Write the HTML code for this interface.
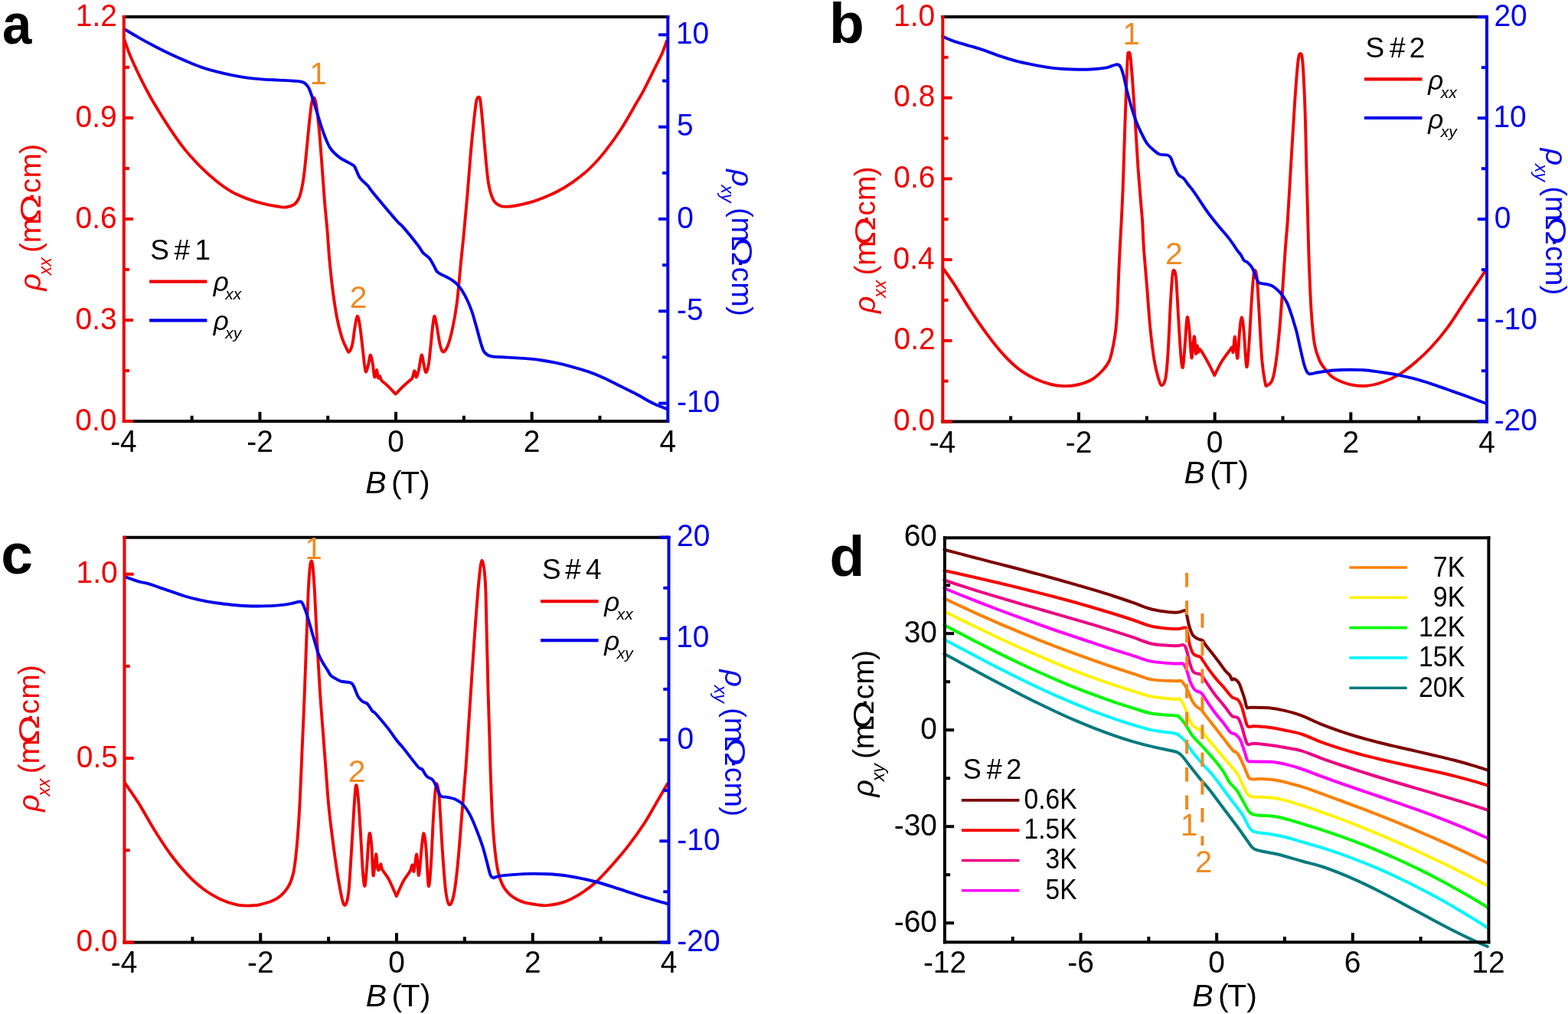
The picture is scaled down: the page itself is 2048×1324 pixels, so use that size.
<!DOCTYPE html>
<html><head><meta charset="utf-8"><title>Figure</title>
<style>
html,body{margin:0;padding:0;background:#fff;width:2048px;height:1324px;overflow:hidden;}
svg{display:block;}
text{font-family:"Liberation Sans",sans-serif;}
</style></head><body>
<svg width="2048" height="1324" viewBox="0 0 2048 1324">
<rect width="2048" height="1324" fill="#fff"/>
<path d="M162,50.6C163.37,54.33 167.13,65.52 170.2,73C173.27,80.48 177,88.35 180.4,95.5C183.8,102.65 187.2,109.45 190.6,115.9C194,122.35 195.7,125.72 200.8,134.2C205.9,142.68 214.4,156.6 221.2,166.8C228,177 234.8,186.9 241.6,195.4C248.4,203.9 255.2,211 262,217.8C268.8,224.6 275.6,230.75 282.4,236.2C289.2,241.65 296,246.6 302.8,250.5C309.6,254.4 316.4,257.05 323.2,259.6C330,262.15 336.8,264.1 343.6,265.8C350.4,267.5 358.9,269.02 364,269.8C369.1,270.58 370.8,271 374.2,270.5C377.6,270 381.68,268.78 384.4,266.8C387.12,264.82 388.82,262.33 390.5,258.6C392.18,254.87 393.32,250.17 394.5,244.4C395.68,238.63 396.57,232.5 397.6,224C398.63,215.5 399.68,203.6 400.7,193.4C401.72,183.2 402.68,172.32 403.7,162.8C404.72,153.28 405.88,142.08 406.8,136.3C407.72,130.52 408.35,128.95 409.2,128.1C410.05,127.25 410.95,127.47 411.9,131.2C412.85,134.93 413.88,141.83 414.9,150.5C415.92,159.17 416.97,170.95 418,183.2C419.03,195.45 420.08,210.42 421.1,224C422.12,237.58 423.03,251.85 424.1,264.7C425.17,277.55 426.4,287.98 427.5,301.1C428.6,314.22 429.47,330 430.7,343.4C431.93,356.8 433.32,369.52 434.9,381.5C436.48,393.48 438.27,405.43 440.2,415.3C442.13,425.17 444.38,434 446.5,440.7C448.62,447.4 451.32,452.4 452.9,455.5C454.48,458.6 454.77,460.35 456,459.3C457.23,458.25 459.07,454.42 460.3,449.2C461.53,443.98 462.35,434.07 463.4,428C464.45,421.93 465.53,413.5 466.6,412.8C467.67,412.1 468.73,417.73 469.8,423.8C470.87,429.87 471.95,440.38 473,449.2C474.05,458.02 475.23,470.65 476.1,476.7C476.97,482.75 477.32,485.87 478.2,485.5C479.08,485.13 480.45,478.17 481.4,474.5C482.35,470.83 483.02,463.5 483.9,463.5C484.78,463.5 485.82,469.67 486.7,474.5C487.58,479.33 488.32,491.08 489.2,492.5C490.08,493.92 491.18,482.82 492,483C492.82,483.18 493.4,492.27 494.1,493.6C494.8,494.93 495.5,490.48 496.2,491C496.9,491.52 496.72,494.68 498.3,496.7C499.88,498.72 502.63,500.13 505.7,503.1C508.77,506.07 514.87,512.6 516.7,514.5C518.4,512.78 523.8,507.17 526.9,504.2C530,501.23 533.37,498.47 535.3,496.7C537.23,494.93 537.5,495.7 538.5,493.6C539.5,491.5 540.42,484.28 541.3,484.1C542.18,483.92 542.85,492.68 543.8,492.5C544.75,492.32 545.87,487.83 547,483C548.13,478.17 549.55,464.92 550.6,463.5C551.65,462.08 552.38,470.72 553.3,474.5C554.22,478.28 555.03,485.83 556.1,486.2C557.17,486.57 558.58,482.87 559.7,476.7C560.82,470.53 561.85,458.02 562.8,449.2C563.75,440.38 564.58,429.87 565.4,423.8C566.22,417.73 566.78,412.1 567.7,412.8C568.62,413.5 569.77,421.93 570.9,428C572.03,434.07 573.27,443.98 574.5,449.2C575.73,454.42 576.72,458.6 578.3,459.3C579.88,460 582,457.9 584,453.4C586,448.9 588.18,441.82 590.3,432.3C592.42,422.78 594.77,411.12 596.7,396.3C598.63,381.48 600.32,359.27 601.9,343.4C603.48,327.53 604.75,316.23 606.2,301.1C607.65,285.97 609.17,269.5 610.6,252.6C612.03,235.7 613.4,215.55 614.8,199.7C616.2,183.85 617.77,168.77 619,157.5C620.23,146.23 621.2,137.22 622.2,132.1C623.2,126.98 624.12,126.8 625,126.8C625.88,126.8 626.55,125.93 627.5,132.1C628.45,138.27 629.65,152.53 630.7,163.8C631.75,175.07 632.57,187.02 633.8,199.7C635.03,212.38 636.33,229.67 638.1,239.9C639.87,250.13 641.93,256.33 644.4,261.1C646.87,265.87 650.08,267.03 652.9,268.5C655.72,269.97 657.78,269.9 661.3,269.9C664.82,269.9 667.65,269.8 674,268.5C680.35,267.2 690.58,265.1 699.4,262.1C708.22,259.1 718.8,254.55 726.9,250.5C735,246.45 740.95,242.73 748,237.8C755.05,232.87 762.15,227.6 769.2,220.9C776.25,214.2 783.25,206.42 790.3,197.6C797.35,188.78 804.45,178.92 811.5,168C818.55,157.08 827.67,140.55 832.6,132.1C837.53,123.65 837.57,124 841.1,117.3C844.63,110.6 849.93,99.65 853.8,91.9C857.67,84.15 861.48,77.15 864.3,70.8C867.12,64.45 869.63,56.63 870.7,53.8" fill="none" stroke="#f00000" stroke-width="3.9" stroke-linejoin="round" stroke-linecap="round"/>
<path d="M163.1,38.4C165.98,40.1 174.12,45.03 180.4,48.6C186.68,52.17 194,56.23 200.8,59.8C207.6,63.37 214.4,66.78 221.2,70C228,73.22 234.8,76.22 241.6,79.1C248.4,81.98 255.2,84.92 262,87.3C268.8,89.68 275.6,91.6 282.4,93.4C289.2,95.2 296,96.73 302.8,98.1C309.6,99.47 316.4,100.68 323.2,101.6C330,102.52 336.8,103.1 343.6,103.6C350.4,104.1 357.2,104.25 364,104.6C370.8,104.95 378.97,105.18 384.4,105.7C389.83,106.22 393.55,106.35 396.6,107.7C399.65,109.05 401,111.08 402.7,113.8C404.4,116.52 405.43,120.25 406.8,124C408.17,127.75 409.2,130.87 410.9,136.3C412.6,141.73 414.97,150.15 417,156.6C419.03,163.05 420.72,168.87 423.1,175C425.48,181.13 427.9,188.3 431.3,193.4C434.7,198.5 438.75,202.03 443.5,205.6C448.25,209.17 456.4,212.58 459.8,214.8C463.2,217.02 462.2,216.02 463.9,218.9C465.6,221.78 467.28,228.2 470,232.1C472.72,236 477.48,239.23 480.2,242.3C482.92,245.37 481.88,245.07 486.3,250.5C490.72,255.93 501.25,268.45 506.7,274.9C512.15,281.35 515.63,285.53 519,289.2C522.37,292.87 522.42,291.73 526.9,296.9C531.38,302.07 541.67,314.73 545.9,320.2C550.13,325.67 549.83,326.88 552.3,329.7C554.77,332.52 558.23,334.1 560.7,337.1C563.17,340.1 565.33,344.7 567.1,347.7C568.87,350.7 569.2,353.07 571.3,355.1C573.4,357.13 576.53,358.15 579.7,359.9C582.87,361.65 587.12,363.42 590.3,365.6C593.48,367.78 595.98,369.65 598.8,373C601.62,376.35 604.38,380.4 607.2,385.7C610.02,391 613.23,398.1 615.7,404.8C618.17,411.5 619.88,418.5 622,425.9C624.12,433.3 626.63,443.57 628.4,449.2C630.17,454.83 630.47,457.05 632.6,459.7C634.73,462.35 636.25,463.95 641.2,465.1C646.15,466.25 655.25,466.13 662.3,466.6C669.35,467.07 676.45,467.33 683.5,467.9C690.55,468.47 697.55,469.05 704.6,470C711.65,470.95 718.75,472.12 725.8,473.6C732.85,475.08 739.85,476.97 746.9,478.9C753.95,480.83 761.05,482.73 768.1,485.2C775.15,487.67 782.15,490.53 789.2,493.7C796.25,496.87 803.35,500.68 810.4,504.2C817.45,507.72 824.45,511.08 831.5,514.8C838.55,518.52 846.17,523.32 852.7,526.5C859.23,529.68 867.7,532.67 870.7,533.9" fill="none" stroke="#0000ea" stroke-width="3.9" stroke-linejoin="round" stroke-linecap="round"/>
<line x1="159.8" y1="21.9" x2="874.3" y2="21.9" stroke="#000000" stroke-width="4.0"/>
<line x1="159.8" y1="550" x2="874.3" y2="550" stroke="#000000" stroke-width="4.0"/>
<line x1="161.8" y1="19.9" x2="161.8" y2="552" stroke="#f00000" stroke-width="4.0"/>
<line x1="872.3" y1="19.9" x2="872.3" y2="552" stroke="#0000ea" stroke-width="4.0"/>
<line x1="250.61" y1="550" x2="250.61" y2="542.8" stroke="#000000" stroke-width="4.0"/>
<line x1="339.43" y1="550" x2="339.43" y2="537.8" stroke="#000000" stroke-width="4.0"/>
<line x1="428.24" y1="550" x2="428.24" y2="542.8" stroke="#000000" stroke-width="4.0"/>
<line x1="517.05" y1="550" x2="517.05" y2="537.8" stroke="#000000" stroke-width="4.0"/>
<line x1="605.86" y1="550" x2="605.86" y2="542.8" stroke="#000000" stroke-width="4.0"/>
<line x1="694.67" y1="550" x2="694.67" y2="537.8" stroke="#000000" stroke-width="4.0"/>
<line x1="783.49" y1="550" x2="783.49" y2="542.8" stroke="#000000" stroke-width="4.0"/>
<text x="143.22" y="590.5" font-size="41" fill="#000000" transform="matrix(0.95,0,0,1,8.09,0)">-4</text>
<text x="321.35" y="590.5" font-size="41" fill="#000000" transform="matrix(0.95,0,0,1,16.97,0)">-2</text>
<text x="505.67" y="590.5" font-size="41" fill="#000000" transform="matrix(0.95,0,0,1,25.85,0)">0</text>
<text x="683.3" y="590.5" font-size="41" fill="#000000" transform="matrix(0.95,0,0,1,34.73,0)">2</text>
<text x="860.92" y="590.5" font-size="41" fill="#000000" transform="matrix(0.95,0,0,1,43.62,0)">4</text>
<line x1="161.8" y1="550" x2="174" y2="550" stroke="#f00000" stroke-width="4.0"/>
<line x1="161.8" y1="417.98" x2="174" y2="417.98" stroke="#f00000" stroke-width="4.0"/>
<line x1="161.8" y1="285.95" x2="174" y2="285.95" stroke="#f00000" stroke-width="4.0"/>
<line x1="161.8" y1="153.92" x2="174" y2="153.92" stroke="#f00000" stroke-width="4.0"/>
<line x1="161.8" y1="483.99" x2="169" y2="483.99" stroke="#f00000" stroke-width="4.0"/>
<line x1="161.8" y1="351.96" x2="169" y2="351.96" stroke="#f00000" stroke-width="4.0"/>
<line x1="161.8" y1="219.94" x2="169" y2="219.94" stroke="#f00000" stroke-width="4.0"/>
<line x1="161.8" y1="87.91" x2="169" y2="87.91" stroke="#f00000" stroke-width="4.0"/>
<text x="96.06" y="33.5" font-size="41" fill="#f00000" transform="matrix(0.95,0,0,1,7.55,0)">1.2</text>
<text x="95.81" y="165.52" font-size="41" fill="#f00000" transform="matrix(0.95,0,0,1,7.55,0)">0.9</text>
<text x="95.81" y="297.55" font-size="41" fill="#f00000" transform="matrix(0.95,0,0,1,7.55,0)">0.6</text>
<text x="95.81" y="429.58" font-size="41" fill="#f00000" transform="matrix(0.95,0,0,1,7.55,0)">0.3</text>
<text x="95.56" y="561.6" font-size="41" fill="#f00000" transform="matrix(0.95,0,0,1,7.55,0)">0.0</text>
<line x1="872.3" y1="45.4" x2="860.1" y2="45.4" stroke="#0000ea" stroke-width="4.0"/>
<line x1="872.3" y1="165.7" x2="860.1" y2="165.7" stroke="#0000ea" stroke-width="4.0"/>
<line x1="872.3" y1="286" x2="860.1" y2="286" stroke="#0000ea" stroke-width="4.0"/>
<line x1="872.3" y1="406.3" x2="860.1" y2="406.3" stroke="#0000ea" stroke-width="4.0"/>
<line x1="872.3" y1="526.6" x2="860.1" y2="526.6" stroke="#0000ea" stroke-width="4.0"/>
<line x1="872.3" y1="105.55" x2="865.1" y2="105.55" stroke="#0000ea" stroke-width="4.0"/>
<line x1="872.3" y1="225.85" x2="865.1" y2="225.85" stroke="#0000ea" stroke-width="4.0"/>
<line x1="872.3" y1="346.15" x2="865.1" y2="346.15" stroke="#0000ea" stroke-width="4.0"/>
<line x1="872.3" y1="466.45" x2="865.1" y2="466.45" stroke="#0000ea" stroke-width="4.0"/>
<text x="882.8" y="57" font-size="41" fill="#0000ea" transform="matrix(0.95,0,0,1,44.29,0)">10</text>
<text x="884.05" y="177.3" font-size="41" fill="#0000ea" transform="matrix(0.95,0,0,1,44.29,0)">5</text>
<text x="884.3" y="297.6" font-size="41" fill="#0000ea" transform="matrix(0.95,0,0,1,44.29,0)">0</text>
<text x="884.05" y="417.9" font-size="41" fill="#0000ea" transform="matrix(0.95,0,0,1,44.29,0)">-5</text>
<text x="884.05" y="538.2" font-size="41" fill="#0000ea" transform="matrix(0.95,0,0,1,44.29,0)">-10</text>
<text x="2.75" y="57.2" font-size="75" fill="#000000" font-weight="bold" transform="matrix(0.92,0,0,1,0.4,0)">a</text>
<text fill="#000000"><tspan x="477.25" y="644.2" font-size="41" font-style="italic">B</tspan><tspan x="511" y="644.2" font-size="41">(</tspan><tspan x="522.9" y="644.2" font-size="41">T</tspan><tspan x="548.05" y="644.2" font-size="41">)</tspan></text>
<text fill="#f00000" transform="translate(53.3,380.6) rotate(-90)"><tspan x="1" y="0" font-size="39" font-style="italic">&#961;</tspan><tspan x="21.25" y="14" font-size="23" font-style="italic">xx</tspan><tspan x="50.6" y="0" font-size="39">(</tspan><tspan x="63.3" y="0" font-size="39">m</tspan><tspan x="117.5" y="0" font-size="39">&#183;</tspan><tspan x="128.25" y="0" font-size="39">c</tspan><tspan x="148" y="0" font-size="39">m</tspan><tspan x="179.75" y="0" font-size="39">)</tspan></text>
<text fill="#f00000" transform="translate(53.3,380.6) rotate(-90) translate(89.22,0) scale(1.3,0.96)" font-size="39">&#937;</text>
<text fill="#0000ea" transform="translate(955.6,220.3) rotate(90)"><tspan x="1" y="0" font-size="39" font-style="italic">&#961;</tspan><tspan x="21.25" y="14" font-size="23" font-style="italic">xy</tspan><tspan x="50.6" y="0" font-size="39">(</tspan><tspan x="63.3" y="0" font-size="39">m</tspan><tspan x="117.5" y="0" font-size="39">&#183;</tspan><tspan x="128.25" y="0" font-size="39">c</tspan><tspan x="148" y="0" font-size="39">m</tspan><tspan x="179.75" y="0" font-size="39">)</tspan></text>
<text fill="#0000ea" transform="translate(955.6,220.3) rotate(90) translate(89.22,0) scale(1.3,0.96)" font-size="39">&#937;</text>
<text fill="#000000"><tspan x="196.35" y="338.5" font-size="37">S</tspan><tspan x="227.45" y="338.5" font-size="37">#</tspan><tspan x="254.55" y="338.5" font-size="37">1</tspan></text>
<line x1="195.1" y1="367.7" x2="270.4" y2="367.7" stroke="#f00000" stroke-width="4.2"/>
<line x1="195.1" y1="418.4" x2="270.4" y2="418.4" stroke="#0000ea" stroke-width="4.2"/>
<text fill="#000000"><tspan x="278.65" y="380.4" font-size="35" font-style="italic">&#961;</tspan><tspan x="294.35" y="391.4" font-size="21" font-style="italic">xx</tspan></text>
<text fill="#000000"><tspan x="278.65" y="431.2" font-size="35" font-style="italic">&#961;</tspan><tspan x="294.35" y="442.2" font-size="21" font-style="italic">xy</tspan></text>
<text x="404.5" y="109.7" font-size="40" fill="#f08a1e">1</text>
<text x="456.82" y="401.6" font-size="41" fill="#f08a1e">2</text>
<path d="M1231.3,349.8C1233.77,353.32 1240.1,361.73 1246.1,370.9C1252.1,380.07 1260.25,394.05 1267.3,404.8C1274.35,415.55 1281.35,425.88 1288.4,435.4C1295.45,444.92 1302.55,454.15 1309.6,461.9C1316.65,469.65 1323.65,476.45 1330.7,481.9C1337.75,487.35 1344.85,491.25 1351.9,494.6C1358.95,497.95 1366.67,500.42 1373,502C1379.33,503.58 1384.25,504.02 1389.9,504.1C1395.55,504.18 1400.9,503.9 1406.9,502.5C1412.9,501.1 1420.27,498.95 1425.9,495.7C1431.53,492.45 1436.82,487.23 1440.7,483C1444.58,478.77 1446.92,475.93 1449.2,470.3C1451.48,464.67 1453,456.25 1454.4,449.2C1455.8,442.15 1456.72,436.82 1457.6,428C1458.48,419.18 1459,410.4 1459.7,396.3C1460.4,382.2 1460.98,361.12 1461.8,343.4C1462.62,325.68 1463.78,306.5 1464.6,290C1465.42,273.5 1466.02,262.2 1466.7,244.4C1467.38,226.6 1468.02,203.6 1468.7,183.2C1469.38,162.8 1470.12,140.02 1470.8,122C1471.48,103.98 1472.23,83.95 1472.8,75.1C1473.37,66.25 1473.62,69.25 1474.2,68.9C1474.78,68.55 1475.52,67.55 1476.3,73C1477.08,78.45 1477.88,88.33 1478.9,101.6C1479.92,114.87 1481.2,133.9 1482.4,152.6C1483.6,171.3 1484.82,195.12 1486.1,213.8C1487.38,232.48 1489.08,252 1490.1,264.7C1491.12,277.4 1491.58,280.4 1492.2,290C1492.82,299.6 1492.82,308.1 1493.8,322.3C1494.78,336.5 1496.68,357.57 1498.1,375.2C1499.52,392.83 1500.72,412.23 1502.3,428.1C1503.88,443.97 1505.83,459.47 1507.6,470.4C1509.37,481.33 1511.25,488.23 1512.9,493.7C1514.55,499.17 1515.92,503.2 1517.5,503.2C1519.08,503.2 1521.05,500.93 1522.4,493.7C1523.75,486.47 1524.53,476.02 1525.6,459.8C1526.67,443.58 1527.85,412.97 1528.8,396.4C1529.75,379.83 1530.53,367.63 1531.3,360.4C1532.07,353.17 1532.58,352.3 1533.4,353C1534.22,353.7 1535.22,353.85 1536.2,364.6C1537.18,375.35 1538.25,400.57 1539.3,417.5C1540.35,434.43 1541.55,455.9 1542.5,466.2C1543.45,476.5 1544.12,482.13 1545,479.3C1545.88,476.47 1546.98,459.15 1547.8,449.2C1548.62,439.25 1549.3,425.3 1549.9,419.6C1550.5,413.9 1550.8,412.88 1551.4,415C1552,417.12 1552.68,423.6 1553.5,432.3C1554.32,441 1555.48,464.38 1556.3,467.2C1557.12,470.02 1557.77,453.78 1558.4,449.2C1559.03,444.62 1559.5,437.58 1560.1,439.7C1560.7,441.82 1561.4,459.95 1562,461.9C1562.6,463.85 1563.18,451.75 1563.7,451.4C1564.22,451.05 1564.58,459.1 1565.1,459.8C1565.62,460.5 1565.98,455.6 1566.8,455.6C1567.62,455.6 1568.05,456.63 1570,459.8C1571.95,462.97 1575.78,469.53 1578.5,474.6C1581.22,479.67 1585,487.6 1586.3,490.2C1587.82,487.25 1592.12,477.92 1595.4,472.5C1598.68,467.08 1603.72,460.87 1606,457.7C1608.28,454.53 1608.33,453.15 1609.1,453.5C1609.87,453.85 1610,462.1 1610.6,459.8C1611.2,457.5 1612.07,440.75 1612.7,439.7C1613.33,438.65 1613.77,448.92 1614.4,453.5C1615.03,458.08 1615.72,470.73 1616.5,467.2C1617.28,463.67 1618.22,441.12 1619.1,432.3C1619.98,423.48 1620.88,414.3 1621.8,414.3C1622.72,414.3 1623.53,421.53 1624.6,432.3C1625.67,443.07 1627.07,476.08 1628.2,478.9C1629.33,481.72 1630.35,462.95 1631.4,449.2C1632.45,435.45 1633.52,411.2 1634.5,396.4C1635.48,381.6 1636.48,367.63 1637.3,360.4C1638.12,353.17 1638.63,352.3 1639.4,353C1640.17,353.7 1641.05,355.62 1641.9,364.6C1642.75,373.58 1643.43,389.27 1644.5,406.9C1645.57,424.53 1646.97,454.88 1648.3,470.4C1649.63,485.92 1651.38,494.53 1652.5,500C1653.62,505.47 1653.43,503.9 1655,503.2C1656.57,502.5 1659.92,501.27 1661.9,495.8C1663.88,490.33 1665.32,481.68 1666.9,470.4C1668.48,459.12 1669.98,443.97 1671.4,428.1C1672.82,412.23 1674.13,392.83 1675.4,375.2C1676.67,357.57 1677.9,337.33 1679,322.3C1680.1,307.27 1680.7,304.8 1682,285C1683.3,265.2 1685.27,228.97 1686.8,203.5C1688.33,178.03 1689.78,152.58 1691.2,132.2C1692.62,111.82 1694.1,91.57 1695.3,81.2C1696.5,70.83 1697.38,70 1698.4,70C1699.42,70 1700.38,69.13 1701.4,81.2C1702.42,93.27 1703.65,118.62 1704.5,142.4C1705.35,166.18 1705.87,199.3 1706.5,223.9C1707.13,248.5 1707.75,270.07 1708.3,290C1708.85,309.93 1709.07,324.02 1709.8,343.5C1710.53,362.98 1711.52,389.28 1712.7,406.9C1713.88,424.52 1715.13,438.62 1716.9,449.2C1718.67,459.78 1720.83,464.75 1723.3,470.4C1725.77,476.05 1728.53,479.22 1731.7,483.1C1734.87,486.98 1737,490.53 1742.3,493.7C1747.6,496.87 1756.45,500.42 1763.5,502.1C1770.55,503.78 1777.55,504.32 1784.6,503.8C1791.65,503.28 1798.75,501.4 1805.8,499C1812.85,496.6 1819.85,493.63 1826.9,489.4C1833.95,485.17 1841.05,479.58 1848.1,473.6C1855.15,467.62 1862.15,461.08 1869.2,453.5C1876.25,445.92 1883.35,437.62 1890.4,428.1C1897.45,418.58 1905.15,405.92 1911.5,396.4C1917.85,386.88 1923.9,377.88 1928.5,371C1933.1,364.12 1937.33,357.75 1939.1,355.1" fill="none" stroke="#f00000" stroke-width="3.9" stroke-linejoin="round" stroke-linecap="round"/>
<path d="M1231.1,47.5C1233.48,48.53 1240.13,51.82 1245.4,53.7C1250.67,55.58 1256.92,57.1 1262.7,58.8C1268.48,60.5 1272.78,61.47 1280.1,63.9C1287.42,66.33 1298.78,70.78 1306.6,73.4C1314.42,76.02 1320.2,77.8 1327,79.6C1333.8,81.4 1340.6,82.82 1347.4,84.2C1354.2,85.58 1361,86.93 1367.8,87.9C1374.6,88.87 1381.4,89.52 1388.2,90C1395,90.48 1401.8,90.77 1408.6,90.8C1415.4,90.83 1422.88,90.62 1429,90.2C1435.12,89.78 1441.23,89.05 1445.3,88.3C1449.37,87.55 1451.03,86.38 1453.4,85.7C1455.77,85.02 1457.8,83.93 1459.5,84.2C1461.2,84.47 1462.23,84.75 1463.6,87.3C1464.97,89.85 1466.33,94.4 1467.7,99.5C1469.07,104.6 1470.1,111.1 1471.8,117.9C1473.5,124.7 1475.87,133.5 1477.9,140.3C1479.93,147.1 1481.97,153.37 1484,158.7C1486.03,164.03 1487.72,167.5 1490.1,172.3C1492.48,177.1 1495.57,183.58 1498.3,187.5C1501.03,191.42 1503.78,193.47 1506.5,195.8C1509.22,198.13 1511.55,200.38 1514.6,201.5C1517.65,202.62 1522.42,201.82 1524.8,202.5C1527.18,203.18 1527.53,203.38 1528.9,205.6C1530.27,207.82 1531.3,212.07 1533,215.8C1534.7,219.53 1536.9,225.12 1539.1,228C1541.3,230.88 1544.17,231.05 1546.2,233.1C1548.23,235.15 1549.6,238.08 1551.3,240.3C1553,242.52 1554.35,243.68 1556.4,246.4C1558.45,249.12 1561.05,252.87 1563.6,256.6C1566.15,260.33 1569.05,264.9 1571.7,268.8C1574.35,272.7 1576.25,275.67 1579.5,280C1582.75,284.33 1587.13,289.87 1591.2,294.8C1595.27,299.73 1600.38,305.18 1603.9,309.6C1607.42,314.02 1610.2,318.3 1612.3,321.3C1614.4,324.3 1615.08,325.67 1616.5,327.6C1617.92,329.53 1619.38,330.78 1620.8,332.9C1622.22,335.02 1623.6,338.72 1625,340.3C1626.4,341.88 1627.43,340.82 1629.2,342.4C1630.97,343.98 1633.83,346.8 1635.6,349.8C1637.37,352.8 1638.4,357.22 1639.8,360.4C1641.2,363.58 1642.23,367.22 1644,368.9C1645.77,370.58 1647.57,369.8 1650.4,370.5C1653.23,371.2 1657.48,371.27 1661,373.1C1664.52,374.93 1668.68,378.68 1671.5,381.5C1674.32,384.32 1675.95,386.83 1677.9,390C1679.85,393.17 1680.73,393.8 1683.2,400.5C1685.67,407.2 1690.25,421.47 1692.7,430.2C1695.15,438.93 1696.15,445.35 1697.9,452.9C1699.65,460.45 1701.68,470.07 1703.2,475.5C1704.72,480.93 1705.78,483.37 1707,485.5C1708.22,487.63 1709.17,487.95 1710.5,488.3C1711.83,488.65 1713.22,487.93 1715,487.6C1716.78,487.27 1716.65,486.98 1721.2,486.3C1725.75,485.62 1735.25,484.1 1742.3,483.5C1749.35,482.9 1756.45,482.7 1763.5,482.7C1770.55,482.7 1777.55,482.9 1784.6,483.5C1791.65,484.1 1798.75,485.23 1805.8,486.3C1812.85,487.37 1819.85,488.5 1826.9,489.9C1833.95,491.3 1841.05,492.83 1848.1,494.7C1855.15,496.57 1862.15,498.8 1869.2,501.1C1876.25,503.4 1883.35,506.03 1890.4,508.5C1897.45,510.97 1903.22,512.9 1911.5,515.9C1919.78,518.9 1935.33,524.73 1940.1,526.5" fill="none" stroke="#0000ea" stroke-width="3.9" stroke-linejoin="round" stroke-linecap="round"/>
<line x1="1229.3" y1="22" x2="1944" y2="22" stroke="#000000" stroke-width="4.0"/>
<line x1="1229.3" y1="550.5" x2="1944" y2="550.5" stroke="#000000" stroke-width="4.0"/>
<line x1="1231.3" y1="20" x2="1231.3" y2="552.5" stroke="#f00000" stroke-width="4.0"/>
<line x1="1942" y1="20" x2="1942" y2="552.5" stroke="#0000ea" stroke-width="4.0"/>
<line x1="1320.14" y1="550.5" x2="1320.14" y2="543.3" stroke="#000000" stroke-width="4.0"/>
<line x1="1408.97" y1="550.5" x2="1408.97" y2="538.3" stroke="#000000" stroke-width="4.0"/>
<line x1="1497.81" y1="550.5" x2="1497.81" y2="543.3" stroke="#000000" stroke-width="4.0"/>
<line x1="1586.65" y1="550.5" x2="1586.65" y2="538.3" stroke="#000000" stroke-width="4.0"/>
<line x1="1675.49" y1="550.5" x2="1675.49" y2="543.3" stroke="#000000" stroke-width="4.0"/>
<line x1="1764.33" y1="550.5" x2="1764.33" y2="538.3" stroke="#000000" stroke-width="4.0"/>
<line x1="1853.16" y1="550.5" x2="1853.16" y2="543.3" stroke="#000000" stroke-width="4.0"/>
<text x="1212.72" y="591.5" font-size="41" fill="#000000" transform="matrix(0.95,0,0,1,61.57,0)">-4</text>
<text x="1390.9" y="591.5" font-size="41" fill="#000000" transform="matrix(0.95,0,0,1,70.45,0)">-2</text>
<text x="1575.28" y="591.5" font-size="41" fill="#000000" transform="matrix(0.95,0,0,1,79.33,0)">0</text>
<text x="1752.95" y="591.5" font-size="41" fill="#000000" transform="matrix(0.95,0,0,1,88.22,0)">2</text>
<text x="1930.62" y="591.5" font-size="41" fill="#000000" transform="matrix(0.95,0,0,1,97.1,0)">4</text>
<line x1="1231.3" y1="550.5" x2="1243.5" y2="550.5" stroke="#f00000" stroke-width="4.0"/>
<line x1="1231.3" y1="444.8" x2="1243.5" y2="444.8" stroke="#f00000" stroke-width="4.0"/>
<line x1="1231.3" y1="339.1" x2="1243.5" y2="339.1" stroke="#f00000" stroke-width="4.0"/>
<line x1="1231.3" y1="233.4" x2="1243.5" y2="233.4" stroke="#f00000" stroke-width="4.0"/>
<line x1="1231.3" y1="127.7" x2="1243.5" y2="127.7" stroke="#f00000" stroke-width="4.0"/>
<line x1="1231.3" y1="497.65" x2="1238.5" y2="497.65" stroke="#f00000" stroke-width="4.0"/>
<line x1="1231.3" y1="391.95" x2="1238.5" y2="391.95" stroke="#f00000" stroke-width="4.0"/>
<line x1="1231.3" y1="286.25" x2="1238.5" y2="286.25" stroke="#f00000" stroke-width="4.0"/>
<line x1="1231.3" y1="180.55" x2="1238.5" y2="180.55" stroke="#f00000" stroke-width="4.0"/>
<line x1="1231.3" y1="74.85" x2="1238.5" y2="74.85" stroke="#f00000" stroke-width="4.0"/>
<text x="1164.26" y="33.6" font-size="41" fill="#f00000" transform="matrix(0.95,0,0,1,60.99,0)">1.0</text>
<text x="1164.51" y="139.3" font-size="41" fill="#f00000" transform="matrix(0.95,0,0,1,60.99,0)">0.8</text>
<text x="1164.51" y="245" font-size="41" fill="#f00000" transform="matrix(0.95,0,0,1,60.99,0)">0.6</text>
<text x="1163.76" y="350.7" font-size="41" fill="#f00000" transform="matrix(0.95,0,0,1,60.99,0)">0.4</text>
<text x="1164.76" y="456.4" font-size="41" fill="#f00000" transform="matrix(0.95,0,0,1,60.99,0)">0.2</text>
<text x="1164.26" y="562.1" font-size="41" fill="#f00000" transform="matrix(0.95,0,0,1,60.99,0)">0.0</text>
<line x1="1942" y1="22.2" x2="1929.8" y2="22.2" stroke="#0000ea" stroke-width="4.0"/>
<line x1="1942" y1="154.2" x2="1929.8" y2="154.2" stroke="#0000ea" stroke-width="4.0"/>
<line x1="1942" y1="286.2" x2="1929.8" y2="286.2" stroke="#0000ea" stroke-width="4.0"/>
<line x1="1942" y1="418.2" x2="1929.8" y2="418.2" stroke="#0000ea" stroke-width="4.0"/>
<line x1="1942" y1="550.2" x2="1929.8" y2="550.2" stroke="#0000ea" stroke-width="4.0"/>
<line x1="1942" y1="88.2" x2="1934.8" y2="88.2" stroke="#0000ea" stroke-width="4.0"/>
<line x1="1942" y1="220.2" x2="1934.8" y2="220.2" stroke="#0000ea" stroke-width="4.0"/>
<line x1="1942" y1="352.2" x2="1934.8" y2="352.2" stroke="#0000ea" stroke-width="4.0"/>
<line x1="1942" y1="484.2" x2="1934.8" y2="484.2" stroke="#0000ea" stroke-width="4.0"/>
<text x="1951.3" y="33.8" font-size="41" fill="#0000ea" transform="matrix(0.95,0,0,1,97.67,0)">20</text>
<text x="1950.3" y="165.8" font-size="41" fill="#0000ea" transform="matrix(0.95,0,0,1,97.67,0)">10</text>
<text x="1951.8" y="297.8" font-size="41" fill="#0000ea" transform="matrix(0.95,0,0,1,97.67,0)">0</text>
<text x="1951.55" y="429.8" font-size="41" fill="#0000ea" transform="matrix(0.95,0,0,1,97.67,0)">-10</text>
<text x="1951.55" y="561.8" font-size="41" fill="#0000ea" transform="matrix(0.95,0,0,1,97.67,0)">-20</text>
<text fill="#000000"><tspan x="1082.9" y="56.4" font-size="75" font-weight="bold">b</tspan></text>
<text fill="#000000"><tspan x="1546.45" y="630.6" font-size="41" font-style="italic">B</tspan><tspan x="1580.2" y="630.6" font-size="41">(</tspan><tspan x="1592.1" y="630.6" font-size="41">T</tspan><tspan x="1617.25" y="630.6" font-size="41">)</tspan></text>
<text fill="#f00000" transform="translate(1142.9,410) rotate(-90)"><tspan x="1" y="0" font-size="39" font-style="italic">&#961;</tspan><tspan x="21.25" y="14" font-size="23" font-style="italic">xx</tspan><tspan x="50.6" y="0" font-size="39">(</tspan><tspan x="63.3" y="0" font-size="39">m</tspan><tspan x="117.5" y="0" font-size="39">&#183;</tspan><tspan x="128.25" y="0" font-size="39">c</tspan><tspan x="148" y="0" font-size="39">m</tspan><tspan x="179.75" y="0" font-size="39">)</tspan></text>
<text fill="#f00000" transform="translate(1142.9,410) rotate(-90) translate(89.22,0) scale(1.3,0.96)" font-size="39">&#937;</text>
<text fill="#0000ea" transform="translate(2018.5,192.7) rotate(90)"><tspan x="1" y="0" font-size="39" font-style="italic">&#961;</tspan><tspan x="21.25" y="14" font-size="23" font-style="italic">xy</tspan><tspan x="50.6" y="0" font-size="39">(</tspan><tspan x="63.3" y="0" font-size="39">m</tspan><tspan x="117.5" y="0" font-size="39">&#183;</tspan><tspan x="128.25" y="0" font-size="39">c</tspan><tspan x="148" y="0" font-size="39">m</tspan><tspan x="179.75" y="0" font-size="39">)</tspan></text>
<text fill="#0000ea" transform="translate(2018.5,192.7) rotate(90) translate(89.22,0) scale(1.3,0.96)" font-size="39">&#937;</text>
<text fill="#000000"><tspan x="1783.55" y="74.7" font-size="37">S</tspan><tspan x="1815.05" y="74.7" font-size="37">#</tspan><tspan x="1840.75" y="74.7" font-size="37">2</tspan></text>
<line x1="1781.9" y1="103.4" x2="1857.4" y2="103.4" stroke="#f00000" stroke-width="4.2"/>
<line x1="1781.9" y1="154" x2="1857.4" y2="154" stroke="#0000ea" stroke-width="4.2"/>
<text fill="#000000"><tspan x="1865.35" y="116.6" font-size="35" font-style="italic">&#961;</tspan><tspan x="1881.75" y="127.6" font-size="21" font-style="italic">xx</tspan></text>
<text fill="#000000"><tspan x="1865.35" y="167.5" font-size="35" font-style="italic">&#961;</tspan><tspan x="1881.75" y="178.5" font-size="21" font-style="italic">xy</tspan></text>
<text x="1466.5" y="57.7" font-size="40" fill="#f08a1e">1</text>
<text x="1522.12" y="344.5" font-size="41" fill="#f08a1e">2</text>
<path d="M163.2,1022.4C166.2,1026.82 174.68,1038.5 181.2,1048.9C187.72,1059.3 195.25,1073.53 202.3,1084.8C209.35,1096.07 216.45,1106.98 223.5,1116.5C230.55,1126.02 237.55,1134.48 244.6,1141.9C251.65,1149.32 258.75,1155.7 265.8,1161C272.85,1166.3 279.85,1170.35 286.9,1173.7C293.95,1177.05 302.1,1179.62 308.1,1181.1C314.1,1182.58 317.62,1182.6 322.9,1182.6C328.18,1182.6 333.45,1182.58 339.8,1181.1C346.15,1179.62 355,1177.4 361,1173.7C367,1170 372.1,1164.55 375.8,1158.9C379.5,1153.25 381.27,1148.27 383.2,1139.8C385.13,1131.33 386.17,1120.43 387.4,1108.1C388.63,1095.77 389.72,1079.9 390.6,1065.8C391.48,1051.7 392.05,1037.6 392.7,1023.5C393.35,1009.4 393.65,1001.12 394.5,981.2C395.35,961.28 396.82,928.77 397.8,904C398.78,879.23 399.58,854.7 400.4,832.6C401.22,810.5 401.97,786.7 402.7,771.4C403.43,756.1 404.18,747.27 404.8,740.8C405.42,734.33 405.8,732.93 406.4,732.6C407,732.27 407.65,732.33 408.4,738.8C409.15,745.27 409.98,755.77 410.9,771.4C411.82,787.03 412.72,810.5 413.9,832.6C415.08,854.7 416.62,882.77 418,904C419.38,925.23 420.97,943.62 422.2,960C423.43,976.38 424.17,986.43 425.4,1002.3C426.63,1018.17 427.83,1037.57 429.6,1055.2C431.37,1072.83 433.88,1092.23 436,1108.1C438.12,1123.97 440.12,1138.23 442.3,1150.4C444.48,1162.57 446.98,1178.28 449.1,1181.1C451.22,1183.92 453.32,1179.47 455,1167.3C456.68,1155.13 457.97,1126.78 459.2,1108.1C460.43,1089.42 461.45,1068.95 462.4,1055.2C463.35,1041.45 464.02,1028.07 464.9,1025.6C465.78,1023.13 466.7,1030.18 467.7,1040.4C468.7,1050.62 469.85,1070.33 470.9,1086.9C471.95,1103.47 473.05,1128.17 474,1139.8C474.95,1151.43 475.72,1158.47 476.6,1156.7C477.48,1154.93 478.5,1139.07 479.3,1129.2C480.1,1119.33 480.77,1104.37 481.4,1097.5C482.03,1090.63 482.45,1086.93 483.1,1088C483.75,1089.07 484.58,1094.73 485.3,1103.9C486.02,1113.07 486.63,1139.48 487.4,1143C488.17,1146.52 489.23,1129.58 489.9,1125C490.57,1120.42 490.87,1114.08 491.4,1115.5C491.93,1116.92 492.47,1130.15 493.1,1133.5C493.73,1136.85 494.5,1136.48 495.2,1135.6C495.9,1134.72 496.6,1128.2 497.3,1128.2C498,1128.2 497.63,1132.25 499.4,1135.6C501.17,1138.95 504.83,1142.53 507.9,1148.3C510.97,1154.07 516.15,1166.55 517.8,1170.2C519.32,1166.9 523.97,1155.82 526.9,1150.4C529.83,1144.98 533.45,1141.23 535.4,1137.7C537.35,1134.17 537.72,1129.2 538.6,1129.2C539.48,1129.2 539.75,1139.98 540.7,1137.7C541.65,1135.42 543.25,1114.62 544.3,1115.5C545.35,1116.38 545.95,1144.23 547,1143C548.05,1141.77 549.53,1117.27 550.6,1108.1C551.67,1098.93 552.42,1088 553.4,1088C554.38,1088 555.45,1096.65 556.5,1108.1C557.55,1119.55 558.63,1153.18 559.7,1156.7C560.77,1160.22 561.83,1144.35 562.9,1129.2C563.97,1114.05 565.05,1082.72 566.1,1065.8C567.15,1048.88 568.32,1034.4 569.2,1027.7C570.08,1021 570.62,1022.78 571.4,1025.6C572.18,1028.42 572.85,1030.85 573.9,1044.6C574.95,1058.35 576.37,1088.7 577.7,1108.1C579.03,1127.5 580.42,1148.83 581.9,1161C583.38,1173.17 584.83,1179.7 586.6,1181.1C588.37,1182.5 590.63,1178.05 592.5,1169.4C594.37,1160.75 596.03,1146.47 597.8,1129.2C599.57,1111.93 601.33,1086.95 603.1,1065.8C604.87,1044.65 607.05,1019.93 608.4,1002.3C609.75,984.67 610.2,975.13 611.2,960C612.2,944.87 612.92,933.68 614.4,911.5C615.88,889.32 618.27,852.28 620.1,826.9C621.93,801.52 623.82,775.07 625.4,759.2C626.98,743.33 628.2,731.7 629.6,731.7C631,731.7 632.77,742.48 633.8,759.2C634.83,775.92 635.17,807.87 635.8,832C636.43,856.13 637.02,882.67 637.6,904C638.18,925.33 638.7,940.08 639.3,960C639.9,979.92 640.37,1002.35 641.2,1023.5C642.03,1044.65 642.9,1068.57 644.3,1086.9C645.7,1105.23 647.65,1122.22 649.6,1133.5C651.55,1144.78 653.18,1148.78 656,1154.6C658.82,1160.42 661.92,1164.52 666.5,1168.4C671.08,1172.28 677.15,1175.68 683.5,1177.9C689.85,1180.12 699.32,1181 704.6,1181.7C709.88,1182.4 709.9,1182.73 715.2,1182.1C720.5,1181.47 729.35,1180.37 736.4,1177.9C743.45,1175.43 750.45,1171.7 757.5,1167.3C764.55,1162.9 771.65,1157.85 778.7,1151.5C785.75,1145.15 792.75,1137.13 799.8,1129.2C806.85,1121.27 813.95,1113.07 821,1103.9C828.05,1094.73 836.12,1083.37 842.1,1074.2C848.08,1065.03 851.97,1057.35 856.9,1048.9C861.83,1040.45 869.23,1027.73 871.7,1023.5" fill="none" stroke="#f00000" stroke-width="3.9" stroke-linejoin="round" stroke-linecap="round"/>
<path d="M164.1,753.4C166.82,754.35 175.47,757.63 180.4,759.1C185.33,760.57 188.43,760.67 193.7,762.2C198.97,763.73 204.02,765.58 212,768.3C219.98,771.02 233.27,775.95 241.6,778.5C249.93,781.05 255.2,782.13 262,783.6C268.8,785.07 275.6,786.28 282.4,787.3C289.2,788.32 296,789.05 302.8,789.7C309.6,790.35 316.4,790.92 323.2,791.2C330,791.48 336.8,791.53 343.6,791.4C350.4,791.27 357.88,790.95 364,790.4C370.12,789.85 375.88,788.88 380.3,788.1C384.72,787.32 388.13,785.92 390.5,785.7C392.87,785.48 393.08,784.88 394.5,786.8C395.92,788.72 397.48,793.05 399,797.2C400.52,801.35 402.23,807.15 403.6,811.7C404.97,816.25 405.92,820.03 407.2,824.5C408.48,828.97 409.85,833.62 411.3,838.5C412.75,843.38 414.23,849.43 415.9,853.8C417.57,858.17 419.38,861.27 421.3,864.7C423.22,868.13 425.58,871.48 427.4,874.4C429.22,877.32 430.4,880.28 432.2,882.2C434,884.12 435.98,884.65 438.2,885.9C440.42,887.15 442.23,888.8 445.5,889.7C448.77,890.6 455.07,890.28 457.8,891.3C460.53,892.32 460.2,892.67 461.9,895.8C463.6,898.93 465.97,906.7 468,910.1C470.03,913.5 472.07,914.67 474.1,916.2C476.13,917.73 478.17,917.27 480.2,919.3C482.23,921.33 484.6,926.37 486.3,928.4C488,930.43 487,927.75 490.4,931.5C493.8,935.25 502.1,945.07 506.7,950.9C511.3,956.73 514.63,962.17 518,966.5C521.37,970.83 522.23,971.1 526.9,976.9C531.57,982.7 541.93,996.72 546,1001.3C550.07,1005.88 549.37,1002.3 551.3,1004.4C553.23,1006.5 555.32,1011.6 557.6,1013.9C559.88,1016.2 562.88,1015.9 565,1018.2C567.12,1020.5 568.53,1024.18 570.3,1027.7C572.07,1031.22 573.32,1037.12 575.6,1039.3C577.88,1041.48 580.83,1040.08 584,1040.8C587.17,1041.52 591.07,1041.9 594.6,1043.6C598.13,1045.3 602.02,1047.65 605.2,1051C608.38,1054.35 610.88,1058.42 613.7,1063.7C616.52,1068.98 619.28,1075.65 622.1,1082.7C624.92,1089.75 628.13,1098.25 630.6,1106C633.07,1113.75 635.25,1123.12 636.9,1129.2C638.55,1135.28 639.23,1139.67 640.5,1142.5C641.77,1145.33 642.63,1145.95 644.5,1146.2C646.37,1146.45 646.97,1144.72 651.7,1144C656.43,1143.28 665.85,1142.42 672.9,1141.9C679.95,1141.38 686.95,1141 694,1140.9C701.05,1140.8 708.13,1140.95 715.2,1141.3C722.27,1141.65 729.35,1142.12 736.4,1143C743.45,1143.88 750.45,1145.18 757.5,1146.6C764.55,1148.02 771.65,1149.63 778.7,1151.5C785.75,1153.37 792.75,1155.58 799.8,1157.8C806.85,1160.02 813.95,1162.5 821,1164.8C828.05,1167.1 833.65,1169.07 842.1,1171.6C850.55,1174.13 866.77,1178.6 871.7,1180" fill="none" stroke="#0000ea" stroke-width="3.9" stroke-linejoin="round" stroke-linecap="round"/>
<line x1="160.5" y1="701.8" x2="875.5" y2="701.8" stroke="#000000" stroke-width="4.0"/>
<line x1="160.5" y1="1230.4" x2="875.5" y2="1230.4" stroke="#000000" stroke-width="4.0"/>
<line x1="162.5" y1="699.8" x2="162.5" y2="1232.4" stroke="#f00000" stroke-width="4.0"/>
<line x1="873.5" y1="699.8" x2="873.5" y2="1232.4" stroke="#0000ea" stroke-width="4.0"/>
<text x="398.4" y="729.6" font-size="40" fill="#f08a1e">1</text>
<line x1="251.38" y1="1230.4" x2="251.38" y2="1223.2" stroke="#000000" stroke-width="4.0"/>
<line x1="340.25" y1="1230.4" x2="340.25" y2="1218.2" stroke="#000000" stroke-width="4.0"/>
<line x1="429.12" y1="1230.4" x2="429.12" y2="1223.2" stroke="#000000" stroke-width="4.0"/>
<line x1="518" y1="1230.4" x2="518" y2="1218.2" stroke="#000000" stroke-width="4.0"/>
<line x1="606.88" y1="1230.4" x2="606.88" y2="1223.2" stroke="#000000" stroke-width="4.0"/>
<line x1="695.75" y1="1230.4" x2="695.75" y2="1218.2" stroke="#000000" stroke-width="4.0"/>
<line x1="784.62" y1="1230.4" x2="784.62" y2="1223.2" stroke="#000000" stroke-width="4.0"/>
<text x="143.92" y="1270.5" font-size="41" fill="#000000" transform="matrix(0.95,0,0,1,8.13,0)">-4</text>
<text x="322.17" y="1270.5" font-size="41" fill="#000000" transform="matrix(0.95,0,0,1,17.01,0)">-2</text>
<text x="506.62" y="1270.5" font-size="41" fill="#000000" transform="matrix(0.95,0,0,1,25.9,0)">0</text>
<text x="684.38" y="1270.5" font-size="41" fill="#000000" transform="matrix(0.95,0,0,1,34.79,0)">2</text>
<text x="862.12" y="1270.5" font-size="41" fill="#000000" transform="matrix(0.95,0,0,1,43.68,0)">4</text>
<line x1="162.5" y1="1230.4" x2="174.7" y2="1230.4" stroke="#f00000" stroke-width="4.0"/>
<line x1="162.5" y1="990.05" x2="174.7" y2="990.05" stroke="#f00000" stroke-width="4.0"/>
<line x1="162.5" y1="749.7" x2="174.7" y2="749.7" stroke="#f00000" stroke-width="4.0"/>
<line x1="162.5" y1="1110.23" x2="169.7" y2="1110.23" stroke="#f00000" stroke-width="4.0"/>
<line x1="162.5" y1="869.88" x2="169.7" y2="869.88" stroke="#f00000" stroke-width="4.0"/>
<text x="96.76" y="761.3" font-size="41" fill="#f00000" transform="matrix(0.95,0,0,1,7.61,0)">1.0</text>
<text x="97.01" y="1001.65" font-size="41" fill="#f00000" transform="matrix(0.95,0,0,1,7.61,0)">0.5</text>
<text x="96.76" y="1242" font-size="41" fill="#f00000" transform="matrix(0.95,0,0,1,7.61,0)">0.0</text>
<line x1="873.5" y1="701.6" x2="861.3" y2="701.6" stroke="#0000ea" stroke-width="4.0"/>
<line x1="873.5" y1="833.8" x2="861.3" y2="833.8" stroke="#0000ea" stroke-width="4.0"/>
<line x1="873.5" y1="966" x2="861.3" y2="966" stroke="#0000ea" stroke-width="4.0"/>
<line x1="873.5" y1="1098.2" x2="861.3" y2="1098.2" stroke="#0000ea" stroke-width="4.0"/>
<line x1="873.5" y1="1230.4" x2="861.3" y2="1230.4" stroke="#0000ea" stroke-width="4.0"/>
<line x1="873.5" y1="767.7" x2="866.3" y2="767.7" stroke="#0000ea" stroke-width="4.0"/>
<line x1="873.5" y1="899.9" x2="866.3" y2="899.9" stroke="#0000ea" stroke-width="4.0"/>
<line x1="873.5" y1="1032.1" x2="866.3" y2="1032.1" stroke="#0000ea" stroke-width="4.0"/>
<line x1="873.5" y1="1164.3" x2="866.3" y2="1164.3" stroke="#0000ea" stroke-width="4.0"/>
<text x="884" y="713.2" font-size="41" fill="#0000ea" transform="matrix(0.95,0,0,1,44.3,0)">20</text>
<text x="883" y="845.4" font-size="41" fill="#0000ea" transform="matrix(0.95,0,0,1,44.3,0)">10</text>
<text x="884.5" y="977.6" font-size="41" fill="#0000ea" transform="matrix(0.95,0,0,1,44.3,0)">0</text>
<text x="884.25" y="1109.8" font-size="41" fill="#0000ea" transform="matrix(0.95,0,0,1,44.3,0)">-10</text>
<text x="884.25" y="1242" font-size="41" fill="#0000ea" transform="matrix(0.95,0,0,1,44.3,0)">-20</text>
<text fill="#000000"><tspan x="1.2" y="748.5" font-size="75" font-weight="bold">c</tspan></text>
<text fill="#000000"><tspan x="477.85" y="1314" font-size="41" font-style="italic">B</tspan><tspan x="511.6" y="1314" font-size="41">(</tspan><tspan x="523.5" y="1314" font-size="41">T</tspan><tspan x="548.65" y="1314" font-size="41">)</tspan></text>
<text fill="#f00000" transform="translate(50.5,1060.8) rotate(-90)"><tspan x="1" y="0" font-size="39" font-style="italic">&#961;</tspan><tspan x="21.25" y="14" font-size="23" font-style="italic">xx</tspan><tspan x="50.6" y="0" font-size="39">(</tspan><tspan x="63.3" y="0" font-size="39">m</tspan><tspan x="117.5" y="0" font-size="39">&#183;</tspan><tspan x="128.25" y="0" font-size="39">c</tspan><tspan x="148" y="0" font-size="39">m</tspan><tspan x="179.75" y="0" font-size="39">)</tspan></text>
<text fill="#f00000" transform="translate(50.5,1060.8) rotate(-90) translate(89.22,0) scale(1.3,0.96)" font-size="39">&#937;</text>
<text fill="#0000ea" transform="translate(947.2,873.5) rotate(90)"><tspan x="1" y="0" font-size="39" font-style="italic">&#961;</tspan><tspan x="21.25" y="14" font-size="23" font-style="italic">xy</tspan><tspan x="50.6" y="0" font-size="39">(</tspan><tspan x="63.3" y="0" font-size="39">m</tspan><tspan x="117.5" y="0" font-size="39">&#183;</tspan><tspan x="128.25" y="0" font-size="39">c</tspan><tspan x="148" y="0" font-size="39">m</tspan><tspan x="179.75" y="0" font-size="39">)</tspan></text>
<text fill="#0000ea" transform="translate(947.2,873.5) rotate(90) translate(89.22,0) scale(1.3,0.96)" font-size="39">&#937;</text>
<text fill="#000000"><tspan x="707.95" y="756.4" font-size="37">S</tspan><tspan x="738.35" y="756.4" font-size="37">#</tspan><tspan x="765.05" y="756.4" font-size="37">4</tspan></text>
<line x1="706.1" y1="785.1" x2="781.6" y2="785.1" stroke="#f00000" stroke-width="4.2"/>
<line x1="706.1" y1="836.1" x2="781.6" y2="836.1" stroke="#0000ea" stroke-width="4.2"/>
<text fill="#000000"><tspan x="789.15" y="798.3" font-size="35" font-style="italic">&#961;</tspan><tspan x="805.65" y="809.3" font-size="21" font-style="italic">xx</tspan></text>
<text fill="#000000"><tspan x="789.15" y="849.2" font-size="35" font-style="italic">&#961;</tspan><tspan x="805.65" y="860.2" font-size="21" font-style="italic">xy</tspan></text>
<text x="454.82" y="1021.3" font-size="41" fill="#f08a1e">2</text>
<path d="M1233.4,853.7C1237,855.65 1247.23,861.2 1255,865.4C1262.77,869.6 1271.67,874.43 1280,878.9C1288.33,883.37 1296.67,887.82 1305,892.2C1313.33,896.58 1321.67,900.93 1330,905.2C1338.33,909.47 1346.67,913.72 1355,917.8C1363.33,921.88 1371.67,925.85 1380,929.7C1388.33,933.55 1396.67,937.33 1405,940.9C1413.33,944.47 1421.67,947.87 1430,951.1C1438.33,954.33 1446.67,957.43 1455,960.3C1463.33,963.17 1471.67,965.87 1480,968.3C1488.33,970.73 1496.45,972.87 1505,974.9C1513.55,976.93 1525.8,979.23 1531.3,980.5C1536.8,981.77 1535.82,981.33 1538,982.5C1540.18,983.67 1541.57,984.37 1544.4,987.5C1547.23,990.63 1551.12,996.37 1555,1001.3C1558.88,1006.23 1563.47,1012 1567.7,1017.1C1571.93,1022.2 1576.17,1026.6 1580.4,1031.9C1584.63,1037.2 1588.87,1043.25 1593.1,1048.9C1597.33,1054.55 1601.57,1060.17 1605.8,1065.8C1610.03,1071.43 1614.63,1077.42 1618.5,1082.7C1622.37,1087.98 1625.83,1093.27 1629,1097.5C1632.17,1101.73 1633.62,1105.63 1637.5,1108.1C1641.38,1110.57 1647.02,1111.07 1652.3,1112.3C1657.58,1113.53 1661.25,1113.52 1669.2,1115.5C1677.15,1117.48 1690.7,1121.62 1700,1124.2C1709.3,1126.78 1716.67,1128.35 1725,1131C1733.33,1133.65 1741.67,1136.78 1750,1140.1C1758.33,1143.42 1766.67,1147.08 1775,1150.9C1783.33,1154.72 1791.67,1158.82 1800,1163C1808.33,1167.18 1816.67,1171.58 1825,1176C1833.33,1180.42 1841.67,1185 1850,1189.5C1858.33,1194 1866.67,1198.58 1875,1203C1883.33,1207.42 1891.67,1211.82 1900,1216C1908.33,1220.18 1917.87,1224.78 1925,1228.1C1932.13,1231.42 1939.83,1234.6 1942.8,1235.9" fill="none" stroke="#007a7e" stroke-width="4.0" stroke-linejoin="round" stroke-linecap="round"/>
<path d="M1233.4,834.9C1237,836.83 1247.23,842.35 1255,846.5C1262.77,850.65 1271.67,855.43 1280,859.8C1288.33,864.17 1296.67,868.47 1305,872.7C1313.33,876.93 1321.67,881.12 1330,885.2C1338.33,889.28 1346.67,893.28 1355,897.2C1363.33,901.12 1371.67,905 1380,908.7C1388.33,912.4 1396.67,915.97 1405,919.4C1413.33,922.83 1421.67,926.13 1430,929.3C1438.33,932.47 1446.67,935.53 1455,938.4C1463.33,941.27 1471.67,944 1480,946.5C1488.33,949 1496.07,951.57 1505,953.4C1513.93,955.23 1527.52,956.15 1533.6,957.5C1539.68,958.85 1538.98,959.67 1541.5,961.5C1544.02,963.33 1546.1,965.22 1548.7,968.5C1551.3,971.78 1553.58,976.53 1557.1,981.2C1560.62,985.87 1565.22,991.22 1569.8,996.5C1574.38,1001.78 1580.02,1007.35 1584.6,1012.9C1589.18,1018.45 1593.07,1024.17 1597.3,1029.8C1601.53,1035.43 1605.77,1041.05 1610,1046.7C1614.23,1052.35 1618.82,1057.7 1622.7,1063.7C1626.58,1069.7 1630.13,1078.83 1633.3,1082.7C1636.47,1086.57 1637.47,1085.85 1641.7,1086.9C1645.93,1087.95 1652.35,1087.93 1658.7,1089C1665.05,1090.07 1672.92,1091.62 1679.8,1093.3C1686.68,1094.98 1692.47,1096.92 1700,1099.1C1707.53,1101.28 1716.67,1103.8 1725,1106.4C1733.33,1109 1741.67,1111.77 1750,1114.7C1758.33,1117.63 1766.67,1120.75 1775,1124C1783.33,1127.25 1791.67,1130.62 1800,1134.2C1808.33,1137.78 1816.67,1141.58 1825,1145.5C1833.33,1149.42 1841.67,1153.48 1850,1157.7C1858.33,1161.92 1866.67,1166.25 1875,1170.8C1883.33,1175.35 1891.67,1180.13 1900,1185C1908.33,1189.87 1917.87,1195.62 1925,1200C1932.13,1204.38 1939.83,1209.42 1942.8,1211.3" fill="none" stroke="#00f6fc" stroke-width="4.0" stroke-linejoin="round" stroke-linecap="round"/>
<path d="M1233.4,816.2C1237,818.1 1247.23,823.55 1255,827.6C1262.77,831.65 1271.67,836.25 1280,840.5C1288.33,844.75 1296.67,848.98 1305,853.1C1313.33,857.22 1321.67,861.25 1330,865.2C1338.33,869.15 1346.67,873.03 1355,876.8C1363.33,880.57 1371.67,884.25 1380,887.8C1388.33,891.35 1396.67,894.78 1405,898.1C1413.33,901.42 1421.67,904.62 1430,907.7C1438.33,910.78 1446.67,913.78 1455,916.6C1463.33,919.42 1471.67,922.08 1480,924.6C1488.33,927.12 1495.7,930.05 1505,931.7C1514.3,933.35 1530.08,933.87 1535.8,934.5C1541.52,935.13 1537.4,933.87 1539.3,935.5C1541.2,937.13 1545.07,941.52 1547.2,944.3C1549.33,947.08 1550.22,949.25 1552.1,952.2C1553.98,955.15 1555.68,958.53 1558.5,962C1561.32,965.47 1565.65,969.4 1569,973C1572.35,976.6 1575.77,980.43 1578.6,983.6C1581.43,986.77 1582.88,988.18 1586,992C1589.12,995.82 1594,1001.62 1597.3,1006.5C1600.6,1011.38 1602.8,1017.07 1605.8,1021.3C1608.8,1025.53 1612.48,1028.02 1615.3,1031.9C1618.12,1035.78 1620.05,1040.02 1622.7,1044.6C1625.35,1049.18 1628.73,1056.22 1631.2,1059.4C1633.67,1062.58 1634.68,1062.82 1637.5,1063.7C1640.32,1064.58 1642.82,1064.18 1648.1,1064.7C1653.38,1065.22 1660.55,1065.03 1669.2,1066.8C1677.85,1068.57 1690.7,1072.58 1700,1075.3C1709.3,1078.02 1716.67,1080.38 1725,1083.1C1733.33,1085.82 1741.67,1088.65 1750,1091.6C1758.33,1094.55 1766.67,1097.58 1775,1100.8C1783.33,1104.02 1791.67,1107.42 1800,1110.9C1808.33,1114.38 1816.67,1117.95 1825,1121.7C1833.33,1125.45 1841.67,1129.37 1850,1133.4C1858.33,1137.43 1866.67,1141.57 1875,1145.9C1883.33,1150.23 1891.67,1154.75 1900,1159.4C1908.33,1164.05 1917.87,1169.58 1925,1173.8C1932.13,1178.02 1939.83,1182.88 1942.8,1184.7" fill="none" stroke="#00f800" stroke-width="4.0" stroke-linejoin="round" stroke-linecap="round"/>
<path d="M1233.4,798.3C1237,800.1 1247.23,805.27 1255,809.1C1262.77,812.93 1271.67,817.28 1280,821.3C1288.33,825.32 1296.67,829.3 1305,833.2C1313.33,837.1 1321.67,840.95 1330,844.7C1338.33,848.45 1346.67,852.1 1355,855.7C1363.33,859.3 1371.67,862.87 1380,866.3C1388.33,869.73 1396.67,873.07 1405,876.3C1413.33,879.53 1421.67,882.68 1430,885.7C1438.33,888.72 1446.67,891.62 1455,894.4C1463.33,897.18 1471.67,899.87 1480,902.4C1488.33,904.93 1495.7,907.83 1505,909.6C1514.3,911.37 1529.75,912.45 1535.8,913C1541.85,913.55 1539.4,911.28 1541.3,912.9C1543.2,914.52 1545.25,918.45 1547.2,922.7C1549.15,926.95 1551.05,934.13 1553,938.4C1554.95,942.67 1556.27,945.68 1558.9,948.3C1561.53,950.92 1565.52,951.17 1568.8,954.1C1572.08,957.03 1575,961.58 1578.6,965.9C1582.2,970.22 1586.8,975.73 1590.4,980C1594,984.27 1597.28,988.13 1600.2,991.5C1603.12,994.87 1605.2,996.98 1607.9,1000.2C1610.6,1003.42 1613.93,1006.92 1616.4,1010.8C1618.87,1014.68 1620.6,1019.27 1622.7,1023.5C1624.8,1027.73 1626.88,1033.38 1629,1036.2C1631.12,1039.02 1632.22,1039.63 1635.4,1040.4C1638.58,1041.17 1642.47,1040.38 1648.1,1040.8C1653.73,1041.22 1660.55,1041.15 1669.2,1042.9C1677.85,1044.65 1690.7,1048.47 1700,1051.3C1709.3,1054.13 1716.67,1056.95 1725,1059.9C1733.33,1062.85 1741.67,1065.87 1750,1069C1758.33,1072.13 1766.67,1075.38 1775,1078.7C1783.33,1082.02 1791.67,1085.42 1800,1088.9C1808.33,1092.38 1816.67,1095.95 1825,1099.6C1833.33,1103.25 1841.67,1106.98 1850,1110.8C1858.33,1114.62 1866.67,1118.53 1875,1122.5C1883.33,1126.47 1891.67,1130.48 1900,1134.6C1908.33,1138.72 1917.87,1143.57 1925,1147.2C1932.13,1150.83 1939.83,1154.87 1942.8,1156.4" fill="none" stroke="#fff200" stroke-width="4.0" stroke-linejoin="round" stroke-linecap="round"/>
<path d="M1233.4,781.4C1237,783.1 1247.23,787.98 1255,791.6C1262.77,795.22 1271.67,799.35 1280,803.1C1288.33,806.85 1296.67,810.5 1305,814.1C1313.33,817.7 1321.67,821.25 1330,824.7C1338.33,828.15 1346.67,831.48 1355,834.8C1363.33,838.12 1371.67,841.42 1380,844.6C1388.33,847.78 1396.67,850.85 1405,853.9C1413.33,856.95 1421.67,859.97 1430,862.9C1438.33,865.83 1446.67,868.72 1455,871.5C1463.33,874.28 1471.67,876.95 1480,879.6C1488.33,882.25 1495.7,885.8 1505,887.4C1514.3,889 1529.43,888.88 1535.8,889.2C1542.17,889.52 1540.82,887.65 1543.2,889.3C1545.58,890.95 1547.8,894.83 1550.1,899.1C1552.4,903.37 1554.87,910.97 1557,914.9C1559.13,918.83 1560.93,920.75 1562.9,922.7C1564.87,924.65 1567.17,925.12 1568.8,926.6C1570.43,928.08 1570.42,928.65 1572.7,931.6C1574.98,934.55 1578.95,939.73 1582.5,944.3C1586.05,948.87 1590.42,954.38 1594,959C1597.58,963.62 1601.17,968.42 1604,972C1606.83,975.58 1608.92,978.5 1611,980.5C1613.08,982.5 1614.5,981.33 1616.5,984C1618.5,986.67 1620.92,992.03 1623,996.5C1625.08,1000.97 1627.28,1007.37 1629,1010.8C1630.72,1014.23 1630.12,1016.05 1633.3,1017.1C1636.48,1018.15 1642.12,1016.75 1648.1,1017.1C1654.08,1017.45 1660.55,1017.52 1669.2,1019.2C1677.85,1020.88 1690.7,1024.42 1700,1027.2C1709.3,1029.98 1716.67,1032.93 1725,1035.9C1733.33,1038.87 1741.67,1041.93 1750,1045C1758.33,1048.07 1766.67,1051.15 1775,1054.3C1783.33,1057.45 1791.67,1060.63 1800,1063.9C1808.33,1067.17 1816.67,1070.5 1825,1073.9C1833.33,1077.3 1841.67,1080.75 1850,1084.3C1858.33,1087.85 1866.67,1091.52 1875,1095.2C1883.33,1098.88 1891.67,1102.57 1900,1106.4C1908.33,1110.23 1917.87,1114.78 1925,1118.2C1932.13,1121.62 1939.83,1125.45 1942.8,1126.9" fill="none" stroke="#fc8004" stroke-width="4.0" stroke-linejoin="round" stroke-linecap="round"/>
<path d="M1233.4,768.1C1237,769.58 1247.23,773.87 1255,777C1262.77,780.13 1271.67,783.65 1280,786.9C1288.33,790.15 1296.67,793.37 1305,796.5C1313.33,799.63 1321.67,802.67 1330,805.7C1338.33,808.73 1346.67,811.73 1355,814.7C1363.33,817.67 1371.67,820.63 1380,823.5C1388.33,826.37 1396.67,829.12 1405,831.9C1413.33,834.68 1421.67,837.47 1430,840.2C1438.33,842.93 1446.67,845.63 1455,848.3C1463.33,850.97 1471.67,853.6 1480,856.2C1488.33,858.8 1495.7,862.18 1505,863.9C1514.3,865.62 1529.1,866.03 1535.8,866.5C1542.5,866.97 1542.82,865.18 1545.2,866.7C1547.58,868.22 1548.47,871.5 1550.1,875.6C1551.73,879.7 1553.2,887.05 1555,891.3C1556.8,895.55 1558.77,898.98 1560.9,901.1C1563.03,903.22 1566.17,903.02 1567.8,904C1569.43,904.98 1568.9,904.53 1570.7,907C1572.5,909.47 1575.65,914.55 1578.6,918.8C1581.55,923.05 1585.13,928.25 1588.4,932.5C1591.67,936.75 1595.08,940.37 1598.2,944.3C1601.32,948.23 1604.47,953.63 1607.1,956.1C1609.73,958.57 1611.88,957.47 1614,959.1C1616.12,960.73 1617.85,962.13 1619.8,965.9C1621.75,969.67 1624.05,977.12 1625.7,981.7C1627.35,986.28 1627.73,991.28 1629.7,993.4C1631.67,995.52 1631.93,994.15 1637.5,994.4C1643.07,994.65 1656.05,994.28 1663.1,994.9C1670.15,995.52 1673.65,996.58 1679.8,998.1C1685.95,999.62 1692.47,1001.45 1700,1004C1707.53,1006.55 1716.67,1010.35 1725,1013.4C1733.33,1016.45 1741.67,1019.37 1750,1022.3C1758.33,1025.23 1766.67,1028.13 1775,1031C1783.33,1033.87 1791.67,1036.65 1800,1039.5C1808.33,1042.35 1816.67,1045.2 1825,1048.1C1833.33,1051 1841.67,1053.9 1850,1056.9C1858.33,1059.9 1866.67,1062.93 1875,1066.1C1883.33,1069.27 1891.67,1072.53 1900,1075.9C1908.33,1079.27 1917.87,1083.23 1925,1086.3C1932.13,1089.37 1939.83,1092.97 1942.8,1094.3" fill="none" stroke="#fc00fc" stroke-width="4.0" stroke-linejoin="round" stroke-linecap="round"/>
<path d="M1233.4,757.5C1237,758.7 1247.23,762.18 1255,764.7C1262.77,767.22 1271.67,770.02 1280,772.6C1288.33,775.18 1296.67,777.72 1305,780.2C1313.33,782.68 1321.67,785.08 1330,787.5C1338.33,789.92 1346.67,792.32 1355,794.7C1363.33,797.08 1371.67,799.4 1380,801.8C1388.33,804.2 1396.67,806.67 1405,809.1C1413.33,811.53 1421.67,813.9 1430,816.4C1438.33,818.9 1446.67,821.47 1455,824.1C1463.33,826.73 1471.67,829.42 1480,832.2C1488.33,834.98 1495.7,838.97 1505,840.8C1514.3,842.63 1528.93,842.97 1535.8,843.2C1542.67,843.43 1543.82,841.07 1546.2,842.2C1548.58,843.33 1548.8,846.08 1550.1,850C1551.4,853.92 1552.53,861.12 1554,865.7C1555.47,870.28 1556.6,875.03 1558.9,877.5C1561.2,879.97 1565.83,879.52 1567.8,880.5C1569.77,881.48 1568.9,880.95 1570.7,883.4C1572.5,885.85 1575.65,890.93 1578.6,895.2C1581.55,899.47 1585.13,904.75 1588.4,909C1591.67,913.25 1595.08,916.78 1598.2,920.7C1601.32,924.62 1605.13,930.03 1607.1,932.5C1609.07,934.97 1608.37,934.68 1610,935.5C1611.63,936.32 1614.93,935.27 1616.9,937.4C1618.87,939.53 1620.33,944.2 1621.8,948.3C1623.27,952.4 1624.38,958.08 1625.7,962C1627.02,965.92 1627.73,970.33 1629.7,971.8C1631.67,973.27 1632.92,970.63 1637.5,970.8C1642.08,970.97 1650.65,971.97 1657.2,972.8C1663.75,973.63 1669.67,974.55 1676.8,975.8C1683.93,977.05 1691.97,977.97 1700,980.3C1708.03,982.63 1716.67,986.77 1725,989.8C1733.33,992.83 1741.67,995.68 1750,998.5C1758.33,1001.32 1766.67,1004.03 1775,1006.7C1783.33,1009.37 1791.67,1011.95 1800,1014.5C1808.33,1017.05 1816.67,1019.53 1825,1022C1833.33,1024.47 1841.67,1026.85 1850,1029.3C1858.33,1031.75 1866.67,1034.23 1875,1036.7C1883.33,1039.17 1891.67,1041.58 1900,1044.1C1908.33,1046.62 1917.87,1049.55 1925,1051.8C1932.13,1054.05 1939.83,1056.63 1942.8,1057.6" fill="none" stroke="#ec0084" stroke-width="4.0" stroke-linejoin="round" stroke-linecap="round"/>
<path d="M1233.4,745C1237,745.8 1247.23,748.05 1255,749.8C1262.77,751.55 1271.67,753.58 1280,755.5C1288.33,757.42 1296.67,759.33 1305,761.3C1313.33,763.27 1321.67,765.25 1330,767.3C1338.33,769.35 1346.67,771.48 1355,773.6C1363.33,775.72 1371.67,777.8 1380,780C1388.33,782.2 1396.67,784.47 1405,786.8C1413.33,789.13 1421.67,791.55 1430,794C1438.33,796.45 1446.67,798.92 1455,801.5C1463.33,804.08 1471.67,806.75 1480,809.5C1488.33,812.25 1495.7,816.05 1505,818C1514.3,819.95 1528.77,820.93 1535.8,821.2C1542.83,821.47 1544.82,819.38 1547.2,819.6C1549.58,819.82 1548.97,818.73 1550.1,822.5C1551.23,826.27 1552.53,836.95 1554,842.2C1555.47,847.45 1556.6,851.38 1558.9,854C1561.2,856.62 1565.83,856.6 1567.8,857.9C1569.77,859.2 1568.9,859.18 1570.7,861.8C1572.5,864.42 1575.65,869.5 1578.6,873.6C1581.55,877.7 1585.13,882.47 1588.4,886.4C1591.67,890.33 1595.25,893.77 1598.2,897.2C1601.15,900.63 1604.13,904.72 1606.1,907C1608.07,909.28 1608.2,909.75 1610,910.9C1611.8,912.05 1614.93,911.93 1616.9,913.9C1618.87,915.87 1620.33,918.93 1621.8,922.7C1623.27,926.47 1624.38,932.23 1625.7,936.5C1627.02,940.77 1627.73,946.33 1629.7,948.3C1631.67,950.27 1632.92,948.05 1637.5,948.3C1642.08,948.55 1650.65,948.98 1657.2,949.8C1663.75,950.62 1669.67,951.75 1676.8,953.2C1683.93,954.65 1691.97,955.92 1700,958.5C1708.03,961.08 1716.67,965.58 1725,968.7C1733.33,971.82 1741.67,974.57 1750,977.2C1758.33,979.83 1766.67,982.23 1775,984.5C1783.33,986.77 1791.67,988.8 1800,990.8C1808.33,992.8 1816.67,994.63 1825,996.5C1833.33,998.37 1841.67,1000.17 1850,1002C1858.33,1003.83 1866.67,1005.6 1875,1007.5C1883.33,1009.4 1891.67,1011.3 1900,1013.4C1908.33,1015.5 1917.87,1018.1 1925,1020.1C1932.13,1022.1 1939.83,1024.52 1942.8,1025.4" fill="none" stroke="#f80000" stroke-width="4.0" stroke-linejoin="round" stroke-linecap="round"/>
<path d="M1233.4,717.8C1237,718.73 1247.23,721.38 1255,723.4C1262.77,725.42 1271.67,727.73 1280,729.9C1288.33,732.07 1296.67,734.25 1305,736.4C1313.33,738.55 1321.67,740.63 1330,742.8C1338.33,744.97 1346.67,747.17 1355,749.4C1363.33,751.63 1371.67,753.88 1380,756.2C1388.33,758.52 1396.67,760.88 1405,763.3C1413.33,765.72 1421.67,768.17 1430,770.7C1438.33,773.23 1446.67,775.8 1455,778.5C1463.33,781.2 1471.67,784.03 1480,786.9C1488.33,789.77 1495.7,793.57 1505,795.7C1514.3,797.83 1528.62,799.48 1535.8,799.7C1542.98,799.92 1545.72,796.47 1548.1,797C1550.48,797.53 1549.28,799.63 1550.1,802.9C1550.92,806.17 1551.68,812.18 1553,816.6C1554.32,821.02 1556.03,826.45 1558,829.4C1559.97,832.35 1562.68,833.15 1564.8,834.3C1566.92,835.45 1569.05,834.98 1570.7,836.3C1572.35,837.62 1572.73,839.58 1574.7,842.2C1576.67,844.82 1579.57,848.23 1582.5,852C1585.43,855.77 1589.35,860.87 1592.3,864.8C1595.25,868.73 1597.9,872.82 1600.2,875.6C1602.5,878.38 1604.63,879.53 1606.1,881.5C1607.57,883.47 1608.02,886.58 1609,887.4C1609.98,888.22 1610.52,885.75 1612,886.4C1613.48,887.05 1616.27,888.85 1617.9,891.3C1619.53,893.75 1620.5,897.5 1621.8,901.1C1623.1,904.7 1624.55,909.13 1625.7,912.9C1626.85,916.67 1627.38,921.9 1628.7,923.7C1630.02,925.5 1628.85,923.6 1633.6,923.7C1638.35,923.8 1650,923.65 1657.2,924.3C1664.4,924.95 1669.67,925.93 1676.8,927.6C1683.93,929.27 1691.97,931.33 1700,934.3C1708.03,937.27 1716.67,942.02 1725,945.4C1733.33,948.78 1741.67,951.75 1750,954.6C1758.33,957.45 1766.67,960.07 1775,962.5C1783.33,964.93 1791.67,967.08 1800,969.2C1808.33,971.32 1816.67,973.25 1825,975.2C1833.33,977.15 1841.67,978.98 1850,980.9C1858.33,982.82 1866.67,984.72 1875,986.7C1883.33,988.68 1891.67,990.62 1900,992.8C1908.33,994.98 1917.87,997.7 1925,999.8C1932.13,1001.9 1939.83,1004.47 1942.8,1005.4" fill="none" stroke="#7d0000" stroke-width="4.0" stroke-linejoin="round" stroke-linecap="round"/>
<line x1="1231.9" y1="702.3" x2="1946.4" y2="702.3" stroke="#000000" stroke-width="4.0"/>
<line x1="1231.9" y1="1230.2" x2="1946.4" y2="1230.2" stroke="#000000" stroke-width="4.0"/>
<line x1="1233.9" y1="700.3" x2="1233.9" y2="1232.2" stroke="#000000" stroke-width="4.0"/>
<line x1="1944.4" y1="700.3" x2="1944.4" y2="1232.2" stroke="#000000" stroke-width="4.0"/>
<line x1="1322.71" y1="1230.2" x2="1322.71" y2="1223" stroke="#000000" stroke-width="4.0"/>
<line x1="1411.53" y1="1230.2" x2="1411.53" y2="1218" stroke="#000000" stroke-width="4.0"/>
<line x1="1500.34" y1="1230.2" x2="1500.34" y2="1223" stroke="#000000" stroke-width="4.0"/>
<line x1="1589.15" y1="1230.2" x2="1589.15" y2="1218" stroke="#000000" stroke-width="4.0"/>
<line x1="1677.96" y1="1230.2" x2="1677.96" y2="1223" stroke="#000000" stroke-width="4.0"/>
<line x1="1766.78" y1="1230.2" x2="1766.78" y2="1218" stroke="#000000" stroke-width="4.0"/>
<line x1="1855.59" y1="1230.2" x2="1855.59" y2="1223" stroke="#000000" stroke-width="4.0"/>
<text x="1204.42" y="1270.5" font-size="41" fill="#000000" transform="matrix(0.95,0,0,1,61.7,0)">-12</text>
<text x="1393.32" y="1270.5" font-size="41" fill="#000000" transform="matrix(0.95,0,0,1,70.58,0)">-6</text>
<text x="1577.78" y="1270.5" font-size="41" fill="#000000" transform="matrix(0.95,0,0,1,79.46,0)">0</text>
<text x="1755.28" y="1270.5" font-size="41" fill="#000000" transform="matrix(0.95,0,0,1,88.34,0)">6</text>
<text x="1921.12" y="1270.5" font-size="41" fill="#000000" transform="matrix(0.95,0,0,1,97.22,0)">12</text>
<line x1="1233.9" y1="827.2" x2="1246.1" y2="827.2" stroke="#000000" stroke-width="4.0"/>
<line x1="1233.9" y1="953.2" x2="1246.1" y2="953.2" stroke="#000000" stroke-width="4.0"/>
<line x1="1233.9" y1="1079.2" x2="1246.1" y2="1079.2" stroke="#000000" stroke-width="4.0"/>
<line x1="1233.9" y1="1205.2" x2="1246.1" y2="1205.2" stroke="#000000" stroke-width="4.0"/>
<line x1="1233.9" y1="764.2" x2="1241.1" y2="764.2" stroke="#000000" stroke-width="4.0"/>
<line x1="1233.9" y1="890.2" x2="1241.1" y2="890.2" stroke="#000000" stroke-width="4.0"/>
<line x1="1233.9" y1="1016.2" x2="1241.1" y2="1016.2" stroke="#000000" stroke-width="4.0"/>
<line x1="1233.9" y1="1142.2" x2="1241.1" y2="1142.2" stroke="#000000" stroke-width="4.0"/>
<text x="1178.45" y="712.8" font-size="41" fill="#000000" transform="matrix(0.95,0,0,1,61.13,0)">60</text>
<text x="1178.45" y="838.8" font-size="41" fill="#000000" transform="matrix(0.95,0,0,1,61.13,0)">30</text>
<text x="1201.25" y="964.8" font-size="41" fill="#000000" transform="matrix(0.95,0,0,1,61.13,0)">0</text>
<text x="1164.8" y="1090.8" font-size="41" fill="#000000" transform="matrix(0.95,0,0,1,61.13,0)">-30</text>
<text x="1164.8" y="1216.8" font-size="41" fill="#000000" transform="matrix(0.95,0,0,1,61.13,0)">-60</text>
<text fill="#000000"><tspan x="1083.5" y="752" font-size="75" font-weight="bold">d</tspan></text>
<text fill="#000000"><tspan x="1557.35" y="1314" font-size="41" font-style="italic">B</tspan><tspan x="1591.1" y="1314" font-size="41">(</tspan><tspan x="1603" y="1314" font-size="41">T</tspan><tspan x="1628.15" y="1314" font-size="41">)</tspan></text>
<text fill="#000000" transform="translate(1141.3,1041.6) rotate(-90)"><tspan x="1" y="0" font-size="39" font-style="italic">&#961;</tspan><tspan x="21.25" y="14" font-size="23" font-style="italic">xy</tspan><tspan x="50.6" y="0" font-size="39">(</tspan><tspan x="63.3" y="0" font-size="39">m</tspan><tspan x="117.5" y="0" font-size="39">&#183;</tspan><tspan x="128.25" y="0" font-size="39">c</tspan><tspan x="148" y="0" font-size="39">m</tspan><tspan x="179.75" y="0" font-size="39">)</tspan></text>
<text fill="#000000" transform="translate(1141.3,1041.6) rotate(-90) translate(89.22,0) scale(1.3,0.96)" font-size="39">&#937;</text>
<line x1="1550.1" y1="748" x2="1550.1" y2="1058" stroke="#f08a1e" stroke-width="4" stroke-dasharray="18.5 17.8"/>
<line x1="1570.4" y1="801" x2="1570.4" y2="1104" stroke="#f08a1e" stroke-width="4" stroke-dasharray="18.7 17.6"/>
<text x="1541.9" y="1091.2" font-size="40" fill="#f08a1e">1</text>
<text x="1561.08" y="1138.8" font-size="40" fill="#f08a1e">2</text>
<text fill="#000000"><tspan x="1257.85" y="1016.6" font-size="36">S</tspan><tspan x="1288.75" y="1016.6" font-size="36">#</tspan><tspan x="1314.25" y="1016.6" font-size="36">2</tspan></text>
<line x1="1255.9" y1="1044.9" x2="1331.4" y2="1044.9" stroke="#7d0000" stroke-width="3.6"/>
<text x="1331.61" y="1055.8" font-size="36.5" fill="#000000" transform="matrix(0.92,0,0,1,112.49,0)">0.6K</text>
<line x1="1255.9" y1="1084.17" x2="1331.4" y2="1084.17" stroke="#f80000" stroke-width="3.6"/>
<text x="1331.61" y="1095.07" font-size="36.5" fill="#000000" transform="matrix(0.92,0,0,1,112.49,0)">1.5K</text>
<line x1="1255.9" y1="1123.44" x2="1331.4" y2="1123.44" stroke="#ec0084" stroke-width="3.6"/>
<text x="1362.05" y="1134.34" font-size="36.5" fill="#000000" transform="matrix(0.92,0,0,1,112.49,0)">3K</text>
<line x1="1255.9" y1="1162.71" x2="1331.4" y2="1162.71" stroke="#fc00fc" stroke-width="3.6"/>
<text x="1362.05" y="1173.61" font-size="36.5" fill="#000000" transform="matrix(0.92,0,0,1,112.49,0)">5K</text>
<line x1="1762.4" y1="741" x2="1837.7" y2="741" stroke="#fc8004" stroke-width="3.6"/>
<text x="1868.75" y="752.6" font-size="36.5" fill="#000000" transform="matrix(0.93,0,0,1,133.9,0)">7K</text>
<line x1="1762.4" y1="780.3" x2="1837.7" y2="780.3" stroke="#fff200" stroke-width="3.6"/>
<text x="1868.75" y="791.9" font-size="36.5" fill="#000000" transform="matrix(0.93,0,0,1,133.9,0)">9K</text>
<line x1="1762.4" y1="819.6" x2="1837.7" y2="819.6" stroke="#00f800" stroke-width="3.6"/>
<text x="1848.45" y="831.2" font-size="36.5" fill="#000000" transform="matrix(0.93,0,0,1,133.9,0)">12K</text>
<line x1="1762.4" y1="858.9" x2="1837.7" y2="858.9" stroke="#00f6fc" stroke-width="3.6"/>
<text x="1848.45" y="870.5" font-size="36.5" fill="#000000" transform="matrix(0.93,0,0,1,133.9,0)">15K</text>
<line x1="1762.4" y1="898.2" x2="1837.7" y2="898.2" stroke="#007a7e" stroke-width="3.6"/>
<text x="1848.45" y="909.8" font-size="36.5" fill="#000000" transform="matrix(0.93,0,0,1,133.9,0)">20K</text>
</svg>
</body></html>
